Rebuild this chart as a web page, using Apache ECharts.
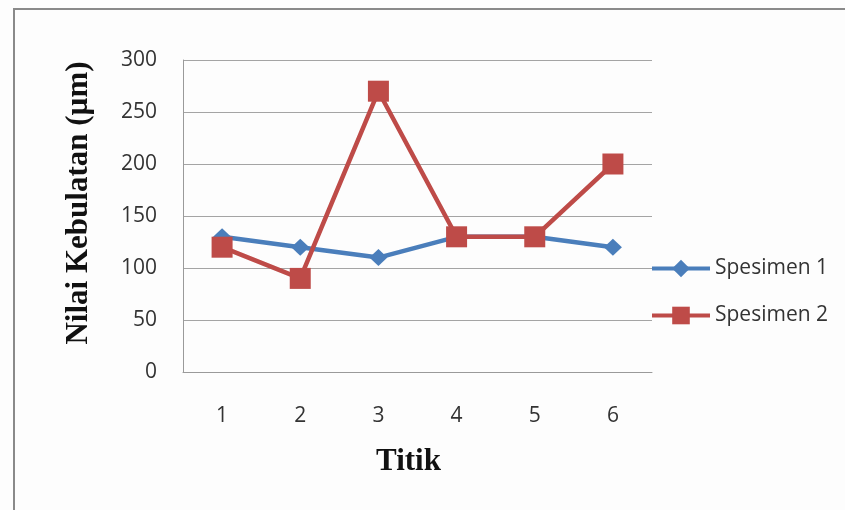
<!DOCTYPE html>
<html>
<head>
<meta charset="utf-8">
<script src="https://cdn.jsdelivr.net/npm/echarts@6/dist/echarts.min.js"></script>
<style>
  html, body { margin: 0; padding: 0; background: #fdfdfd; }
  #chart { width: 845px; height: 510px; }
</style>
</head>
<body>
<div id="chart"></div>
<script>
// Measurement points along the x axis
const categories = ['1', '2', '3', '4', '5', '6'];
// Roundness values (µm) per specimen
const spesimen1 = [130, 120, 110, 130, 130, 120];
const spesimen2 = [120, 90, 270, 130, 130, 200];
const seriesNames = ['Spesimen 1', 'Spesimen 2'];

const labelFont = 'Open Sans';
const titleFont = 'Liberation Serif';

const chart = echarts.init(document.getElementById('chart'), null, { renderer: 'canvas' });

chart.setOption({
  animation: false,
  backgroundColor: '#fdfdfd',
  graphic: [{
    type: 'rect',
    shape: { x: 14, y: 9, width: 900, height: 600 },
    style: { fill: 'none', stroke: '#8a8a8a', lineWidth: 2 },
    silent: true
  }],
  grid: { left: 183, right: 193, top: 60, bottom: 138 },
  legend: {
    orient: 'vertical',
    left: 650,
    top: 258,
    padding: 0,
    itemWidth: 58,
    itemHeight: 22,
    itemGap: 26,
    lineStyle: { width: 4 },
    textStyle: { fontFamily: labelFont, fontSize: 21, color: '#333' },
    data: seriesNames
  },
  xAxis: {
    type: 'category',
    data: categories,
    boundaryGap: true,
    axisLine: { show: true, lineStyle: { color: '#9a9a9a', width: 1 } },
    axisTick: { show: false },
    axisLabel: { fontFamily: labelFont, fontSize: 21, color: '#333', margin: 34 },
    name: 'Titik',
    nameLocation: 'middle',
    nameGap: 74,
    nameTextStyle: {
      fontFamily: titleFont, fontSize: 31, fontWeight: 'bold', color: '#111',
      padding: [0, 18, 0, 0]
    }
  },
  yAxis: {
    type: 'value',
    min: 0,
    max: 300,
    interval: 50,
    axisLine: { show: true, lineStyle: { color: '#9a9a9a', width: 1 } },
    axisTick: { show: false },
    splitLine: { show: true, lineStyle: { color: '#a4a4a4', width: 1 } },
    axisLabel: { fontFamily: labelFont, fontSize: 21, color: '#333', margin: 26 },
    name: 'Nilai Kebulatan (µm)',
    nameLocation: 'middle',
    nameGap: 89,
    nameRotate: 90,
    nameTextStyle: {
      fontFamily: titleFont, fontSize: 31, fontWeight: 'bold', color: '#111',
      padding: [0, 0, 0, 26]
    }
  },
  series: [
    {
      name: seriesNames[0],
      type: 'line',
      data: spesimen1,
      symbol: 'diamond',
      symbolSize: [18, 17],
      itemStyle: { color: '#4a7ebb' },
      lineStyle: { color: '#4a7ebb', width: 4.5 }
    },
    {
      name: seriesNames[1],
      type: 'line',
      data: spesimen2,
      symbol: 'rect',
      symbolSize: 21,
      itemStyle: { color: '#be4b48' },
      lineStyle: { color: '#be4b48', width: 4.5 }
    }
  ]
});
</script>
</body>
</html>
